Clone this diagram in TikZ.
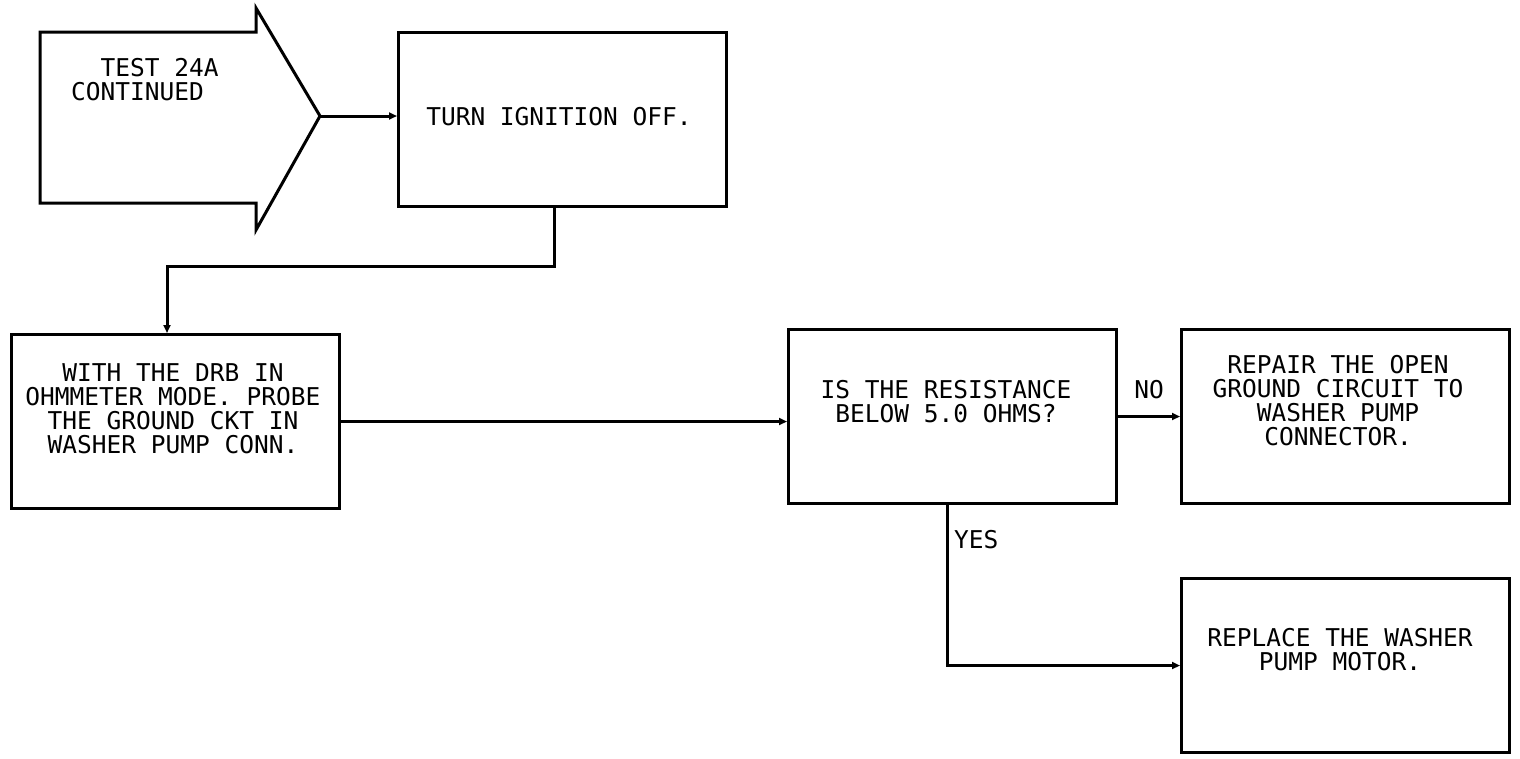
\documentclass[tikz,border=0pt]{standalone}
\usepackage{fontspec}
\newfontfamily\plotfont{DejaVu Sans Mono}
\usetikzlibrary{arrows.meta,positioning}

\begin{document}
\begin{tikzpicture}[
    x=1pt, y=-1pt,
    box/.style={draw, line width=3pt, minimum width=328pt, minimum height=174pt, inner sep=0pt, anchor=north west},
    txt/.style={font=\plotfont\fontsize{24.5}{24}\selectfont, align=center, inner sep=0pt, anchor=north},
    lbl/.style={font=\plotfont\fontsize{24.5}{24}\selectfont, inner sep=0pt},
    arrow/.style={-{Triangle[length=8pt,width=7pt]}, line width=3pt}
  ]
    \useasboundingbox (0,0) rectangle (1520,758);
    % entry arrow
    \draw[line width=3pt, line join=miter] (40,32) -- (256,32) -- (256,8) -- (320,116) coordinate (starttip)
      -- (256,230) -- (256,203) -- (40,203) -- cycle;
    \node[txt, anchor=north west, align=left] (starttext) at (71,58) {\phantom{TT}TEST 24A\\CONTINUED};
    % boxes
    \node[box] (turn) at (397,31) {};
    \node[box] (with) at (10,333) {};
    \node[box] (is) at (787,328) {};
    \node[box] (repair) at (1180,328) {};
    \node[box] (replace) at (1180,577) {};
    \node[txt] (turntext) at (559,107) {TURN IGNITION OFF.};
    \node[txt] (withtext) at (173,363) {WITH THE DRB IN\\OHMMETER MODE. PROBE\\THE GROUND CKT IN\\WASHER PUMP CONN.};
    \node[txt] (istext) at (946,380) {IS THE RESISTANCE\\BELOW 5.0 OHMS?};
    \node[txt] (repairtext) at (1338,355) {REPAIR THE OPEN\\GROUND CIRCUIT TO\\WASHER PUMP\\CONNECTOR.};
    \node[txt] (replacetext) at (1340,628) {REPLACE THE WASHER\\PUMP MOTOR.};
    % connectors
    \coordinate (bend) at (167,266);
    \draw[arrow] (starttip) -- (starttip -| turn.west);
    \draw[arrow] ([xshift=-8pt]turn.south) |- (bend) -- (bend |- with.north);
    \draw[arrow] (with.east) -- (with.east -| is.west);
    \draw[arrow] (is.east) -- (repair.west);
    \draw[arrow] ([xshift=-5pt]is.south) |- (replace.west);
    \node[lbl, anchor=base] (nolabel) at (1149,398) {NO};
    \node[lbl, anchor=north west] (yeslabel) at (954,530) {YES};
  \end{tikzpicture}
\end{document}
